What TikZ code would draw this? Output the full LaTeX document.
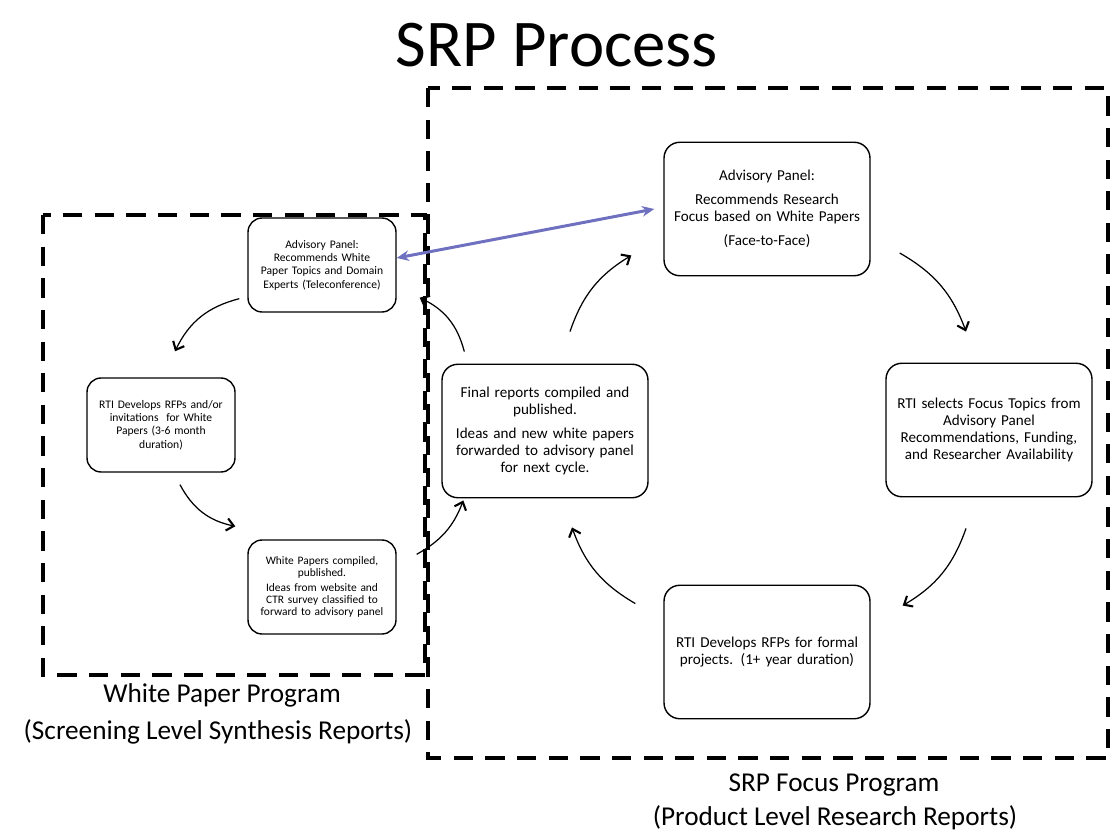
\documentclass[tikz,border=0pt]{standalone}
\usepackage{fontspec}
\setmainfont{Carlito}
\usetikzlibrary{arrows.meta,positioning}

\definecolor{linkblue}{RGB}{112,112,192}

\begin{document}
\begin{tikzpicture}[x=0.02cm,y=-0.02cm,
  smallbox/.style={draw,rounded corners=8pt,line width=0.8pt,inner sep=0pt,minimum width=2.96cm,minimum height=1.88cm,text width=2.8cm,align=center,font=\fontsize{6.6}{7.6}\selectfont},
  bigbox/.style={draw,rounded corners=9pt,line width=0.8pt,inner sep=0pt,minimum width=4.12cm,minimum height=2.67cm,text width=3.9cm,align=center,font=\fontsize{8.6}{9.6}\selectfont},
  progframe/.style={line width=2.8pt,dash pattern=on 11pt off 7pt},
  proglabel/.style={font=\fontsize{15.5}{18}\selectfont},
  cycle/.style={line width=0.7pt,-{Straight Barb[length=4pt,width=7pt,line width=1.2pt]}},
  panellink/.style={line width=1.7pt,color=linkblue,{Stealth[length=7pt,width=6pt]}-{Stealth[length=7pt,width=6pt]}}]
\useasboundingbox[fill=white] (0,0) rectangle (1112,831);

\node[font=\fontsize{38}{40}\selectfont] (title) at (557,45) {SRP Process};

% program frames
\draw[progframe] (43,215) rectangle (425,675);
\draw[progframe] (428,88) rectangle (1108,758);

\node[proglabel] (wpProg) at (222,695) {White Paper Program};
\node[proglabel] (wpSub) at (218,732) {(Screening Level Synthesis Reports)};
\node[proglabel] (focusProg) at (834,785) {SRP Focus Program};
\node[proglabel] (focusSub) at (835,818) {(Product Level Research Reports)};

% white paper cycle
\node[smallbox] (advWhite) at (322,265) {Advisory Panel:\\ Recommends White\\ Paper Topics and Domain\\ Experts (Teleconference)};
\node[smallbox] (rfpWhite) at (161,425) {RTI Develops RFPs and/or\\ invitations\ \ for White\\ Papers (3-6 month\\ duration)};
\node[smallbox,font=\fontsize{6.5}{6.7}\selectfont] (wpCompiled) at (322,587) {White Papers compiled,\\ published.\\[2pt] Ideas from website and\\ CTR survey classified to\\ forward to advisory panel};

% focus cycle
\node[bigbox] (finalRep) at (545,431) {Final reports compiled and\\ published.\\[4pt] Ideas and new white papers\\ forwarded to advisory panel\\ for next cycle.};
\node[bigbox] (advFocus) at (767,209) {Advisory Panel:\\[4pt] Recommends Research\\ Focus based on White Papers\\[4pt] (Face-to-Face)};
\node[bigbox] (rtiSelect) at (989,430) {RTI selects Focus Topics from\\ Advisory Panel\\ Recommendations, Funding,\\ and Researcher Availability};
\node[bigbox] (rfpFormal) at (767,652) {RTI Develops RFPs for formal\\ projects. (1+ year duration)};

\draw[cycle] ([shift={(-8,-14)}]advWhite.south west) to[bend right=25] ([shift={(14,-26)}]rfpWhite.north);
\draw[cycle] ([shift={(19,12)}]rfpWhite.south) to[bend right=25] ([shift={(-12,-13)}]wpCompiled.north west);
\draw[cycle] ([shift={(20,15)}]wpCompiled.north east) to[bend right=20] ([shift={(22,2)}]finalRep.south west);
\draw[cycle] ([shift={(23,-12)}]finalRep.north west) to[bend right=25] ([shift={(23,-15)}]advWhite.south east);

\draw[cycle] ([shift={(25,-32)}]finalRep.north) to[bend left=20] ([shift={(-32,-21)}]advFocus.south west);
\draw[cycle] ([shift={(29,44)}]advFocus.east) to[bend left=20] ([shift={(-23,-31)}]rtiSelect.north);
\draw[cycle] ([shift={(-23,31)}]rtiSelect.south) to[bend left=20] ([shift={(32,21)}]rfpFormal.north east);
\draw[cycle] ([shift={(-28,19)}]rfpFormal.north west) to[bend left=20] ([shift={(27,29)}]finalRep.south);

\draw[panellink] ([yshift=0.14cm]advWhite.east) -- ([xshift=-0.18cm]advFocus.west);
\end{tikzpicture}
\end{document}
